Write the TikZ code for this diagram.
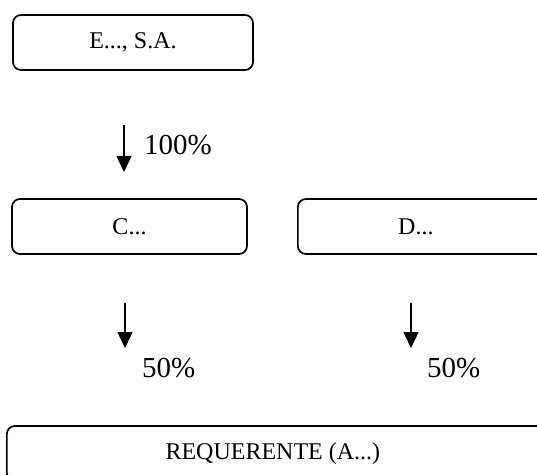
\documentclass[tikz,border=0pt]{standalone}
\usepackage{fontspec}
\setmainfont{Liberation Serif}
\usetikzlibrary{arrows.meta}
\begin{document}
\begin{tikzpicture}[x=1pt,y=1pt,
  entity/.style={draw, line width=1.7pt, rounded corners=8pt, minimum height=55pt,
    inner sep=0pt, font=\fontsize{24}{28}\selectfont},
  share/.style={inner sep=0pt, font=\fontsize{29}{33}\selectfont},
  flow/.style={line width=1.4pt, -{Triangle[length=16pt,width=15pt]}}]
\useasboundingbox (0,0) rectangle (537,474);
\clip (0,0) rectangle (537,474);

% companies
\node[entity, minimum width=240pt] (E) at (133,431.5) {E..., S.A.};
\node[entity, minimum width=235pt] (C) at (129.5,247.5) {C...};
\node[entity, minimum width=260pt, anchor=west] (D) at (297,247.5) {\hspace*{-24pt}D...};
\node[entity, minimum width=560pt, anchor=west] (R) at (6,20.5) {\hspace*{-28pt}REQUERENTE (A...)};

% shareholding arrows
\coordinate (e1) at (124,349);
\coordinate (e2) at (124,302);
\coordinate (c1) at (125,171);
\coordinate (c2) at (125,126);
\coordinate (d1) at (411,171);
\coordinate (d2) at (411,126);
\draw[flow] (e1) -- (e2);
\draw[flow] (c1) -- (c2);
\draw[flow] (d1) -- (d2);

\node[share, anchor=base west] (p1) at (144,319) {100\%};
\node[share, anchor=base west] (p2) at (142,97) {50\%};
\node[share, anchor=base west] (p3) at (427,97) {50\%};
\end{tikzpicture}
\end{document}
